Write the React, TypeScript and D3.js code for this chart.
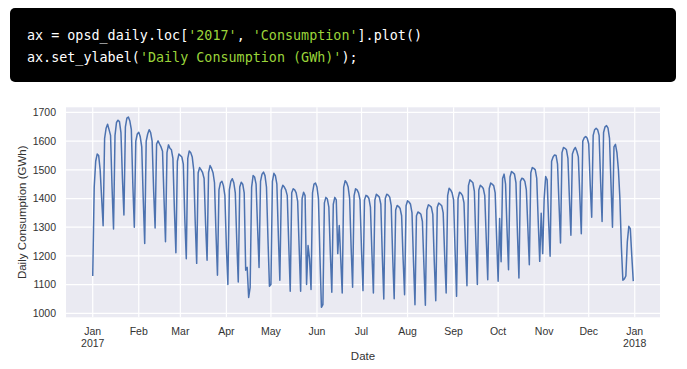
import React, { useEffect, useRef } from "react";
import * as d3 from "d3";

// daily consumption 2017 (GWh), one array per month
const jan = [1130, 1440, 1530, 1555, 1550, 1500, 1400, 1305, 1610, 1645, 1659, 1640, 1620, 1440, 1294, 1620, 1665, 1673, 1668, 1630, 1470, 1343, 1650, 1680, 1684, 1670, 1640, 1450, 1300, 1600, 1625];
const feb = [1631, 1615, 1580, 1400, 1243, 1600, 1625, 1640, 1630, 1600, 1430, 1297, 1590, 1601, 1590, 1580, 1565, 1400, 1249, 1560, 1587, 1575, 1570, 1540, 1360, 1211, 1530, 1555];
const mar = [1550, 1545, 1520, 1330, 1190, 1540, 1566, 1560, 1545, 1500, 1320, 1174, 1490, 1508, 1500, 1490, 1470, 1310, 1185, 1490, 1515, 1505, 1490, 1455, 1280, 1133, 1430, 1455, 1460, 1445, 1410];
const apr = [1230, 1100, 1430, 1460, 1469, 1455, 1420, 1250, 1109, 1440, 1457, 1450, 1420, 1150, 1160, 1055, 1090, 1440, 1480, 1475, 1450, 1300, 1160, 1460, 1485, 1492, 1480, 1440, 1260, 1094];
const may = [1100, 1460, 1488, 1480, 1450, 1270, 1115, 1430, 1446, 1440, 1430, 1410, 1240, 1077, 1420, 1434, 1430, 1420, 1390, 1230, 1077, 1400, 1422, 1410, 1100, 1236, 1190, 1083, 1420, 1450, 1454];
const jun = [1440, 1400, 1200, 1021, 1030, 1385, 1404, 1398, 1370, 1210, 1073, 1380, 1404, 1395, 1208, 1306, 1190, 1071, 1440, 1462, 1455, 1440, 1400, 1230, 1091, 1410, 1434, 1430, 1420, 1395];
const jul = [1220, 1079, 1395, 1411, 1408, 1400, 1370, 1210, 1071, 1395, 1415, 1410, 1405, 1380, 1200, 1050, 1400, 1415, 1412, 1405, 1375, 1195, 1051, 1360, 1376, 1372, 1365, 1340, 1190, 1065, 1375];
const aug = [1392, 1388, 1380, 1350, 1180, 1030, 1340, 1353, 1350, 1345, 1320, 1170, 1028, 1360, 1378, 1375, 1370, 1345, 1180, 1044, 1370, 1384, 1380, 1375, 1350, 1200, 1071, 1410, 1436, 1430, 1420];
const sep = [1395, 1220, 1059, 1400, 1422, 1418, 1410, 1385, 1230, 1096, 1445, 1465, 1460, 1455, 1425, 1250, 1100, 1430, 1446, 1442, 1435, 1410, 1260, 1117, 1435, 1454, 1450, 1445, 1420, 1260];
const oct = [1112, 1330, 1180, 1470, 1485, 1450, 1290, 1152, 1475, 1494, 1490, 1485, 1455, 1280, 1123, 1460, 1471, 1468, 1460, 1430, 1300, 1169, 1490, 1508, 1505, 1500, 1470, 1320, 1181, 1349, 1208];
const nov = [1400, 1477, 1465, 1320, 1199, 1530, 1545, 1552, 1550, 1520, 1380, 1245, 1560, 1578, 1575, 1570, 1540, 1400, 1272, 1555, 1570, 1578, 1565, 1545, 1410, 1277, 1600, 1612, 1616, 1610];
const dec = [1590, 1450, 1335, 1620, 1640, 1645, 1640, 1620, 1460, 1320, 1630, 1650, 1654, 1645, 1610, 1450, 1300, 1580, 1589, 1560, 1500, 1400, 1230, 1115, 1120, 1130, 1250, 1303, 1295, 1200, 1112];

const yTicks = [1000, 1100, 1200, 1300, 1400, 1500, 1600, 1700];

const codeLines = [
  [["ax = opsd_daily.loc[", "#fff"], ["'2017'", "#9ad43a"], [", ", "#fff"], ["'Consumption'", "#9ad43a"], ["].plot()", "#fff"]],
  [["ax.set_ylabel(", "#fff"], ["'Daily Consumption (GWh)'", "#9ad43a"], [");", "#fff"]],
];

const W = 687;
const H = 369;

export default function App() {
  const svgRef = useRef<SVGSVGElement>(null);

  useEffect(() => {
    const svg = d3.select(svgRef.current);
    svg.selectAll("*").remove();

    // code block
    svg.append("rect")
      .attr("x", 10).attr("y", 8).attr("width", 666).attr("height", 74)
      .attr("rx", 5).attr("fill", "#000");
    codeLines.forEach((line, i) => {
      const t = svg.append("text")
        .attr("x", 27).attr("y", 40 + i * 22)
        .attr("font-family", "'DejaVu Sans Mono', monospace")
        .attr("font-size", 13.4)
        .attr("xml:space", "preserve");
      line.forEach(([s, c]) => t.append("tspan").attr("fill", c).text(s));
    });

    const values = [...jan, ...feb, ...mar, ...apr, ...may, ...jun, ...jul, ...aug, ...sep, ...oct, ...nov, ...dec];
    const start = new Date(2017, 0, 1);
    const data = values.map((v, i) => ({ date: d3.timeDay.offset(start, i), value: v }));

    const left = 66, right = 660, top = 107.3, bottom = 317.3;

    const x = d3.scaleTime()
      .domain([d3.timeDay.offset(start, -18), d3.timeDay.offset(start, 382)])
      .range([left, right]);
    const y = d3.scaleLinear().domain([986, 1718]).range([bottom, top]);

    svg.append("rect")
      .attr("x", left).attr("y", top)
      .attr("width", right - left).attr("height", bottom - top)
      .attr("fill", "#eaeaf2");

    const months = d3.timeMonth.range(start, new Date(2018, 0, 2));

    svg.append("g").selectAll("line").data(months).enter().append("line")
      .attr("x1", (d) => x(d)).attr("x2", (d) => x(d))
      .attr("y1", top).attr("y2", bottom)
      .attr("stroke", "#fff").attr("stroke-width", 1.2);
    svg.append("g").selectAll("line").data(yTicks).enter().append("line")
      .attr("x1", left).attr("x2", right)
      .attr("y1", (d) => y(d)).attr("y2", (d) => y(d))
      .attr("stroke", "#fff").attr("stroke-width", 1.2);

    const font = "'Liberation Sans', Arial, sans-serif";
    const tickColor = "#333";

    svg.append("g").selectAll("text").data(yTicks).enter().append("text")
      .attr("x", left - 10).attr("y", (d) => y(d)).attr("dy", "0.35em")
      .attr("text-anchor", "end").attr("font-family", font).attr("font-size", 10.5)
      .attr("fill", tickColor).text((d) => d);

    const fmt = d3.timeFormat("%b");
    svg.append("g").selectAll("text").data(months).enter().append("text")
      .attr("x", (d) => x(d)).attr("y", 335)
      .attr("text-anchor", "middle").attr("font-family", font).attr("font-size", 10.5)
      .attr("fill", tickColor).text((d) => fmt(d));
    svg.append("g").selectAll("text")
      .data([months[0], months[months.length - 1]]).enter().append("text")
      .attr("x", (d) => x(d)).attr("y", 347)
      .attr("text-anchor", "middle").attr("font-family", font).attr("font-size", 10.5)
      .attr("fill", tickColor).text((d) => d3.timeFormat("%Y")(d));

    svg.append("text")
      .attr("x", (left + right) / 2).attr("y", 360)
      .attr("text-anchor", "middle").attr("font-family", font).attr("font-size", 11.5)
      .attr("fill", tickColor).text("Date");
    svg.append("text")
      .attr("transform", `translate(26, ${(top + bottom) / 2}) rotate(-90)`)
      .attr("text-anchor", "middle").attr("font-family", font).attr("font-size", 11.5)
      .attr("fill", tickColor).text("Daily Consumption (GWh)");

    const line = d3.line<{ date: Date; value: number }>()
      .x((d) => x(d.date))
      .y((d) => y(d.value));
    svg.append("path")
      .datum(data)
      .attr("d", line)
      .attr("fill", "none")
      .attr("stroke", "#4c72b0")
      .attr("stroke-width", 1.5)
      .attr("stroke-linejoin", "round");
  }, []);

  return (
    <div style={{ position: "absolute", left: 0, top: 0, background: "#fff" }}>
      <svg ref={svgRef} width={W} height={H}></svg>
    </div>
  );
}
